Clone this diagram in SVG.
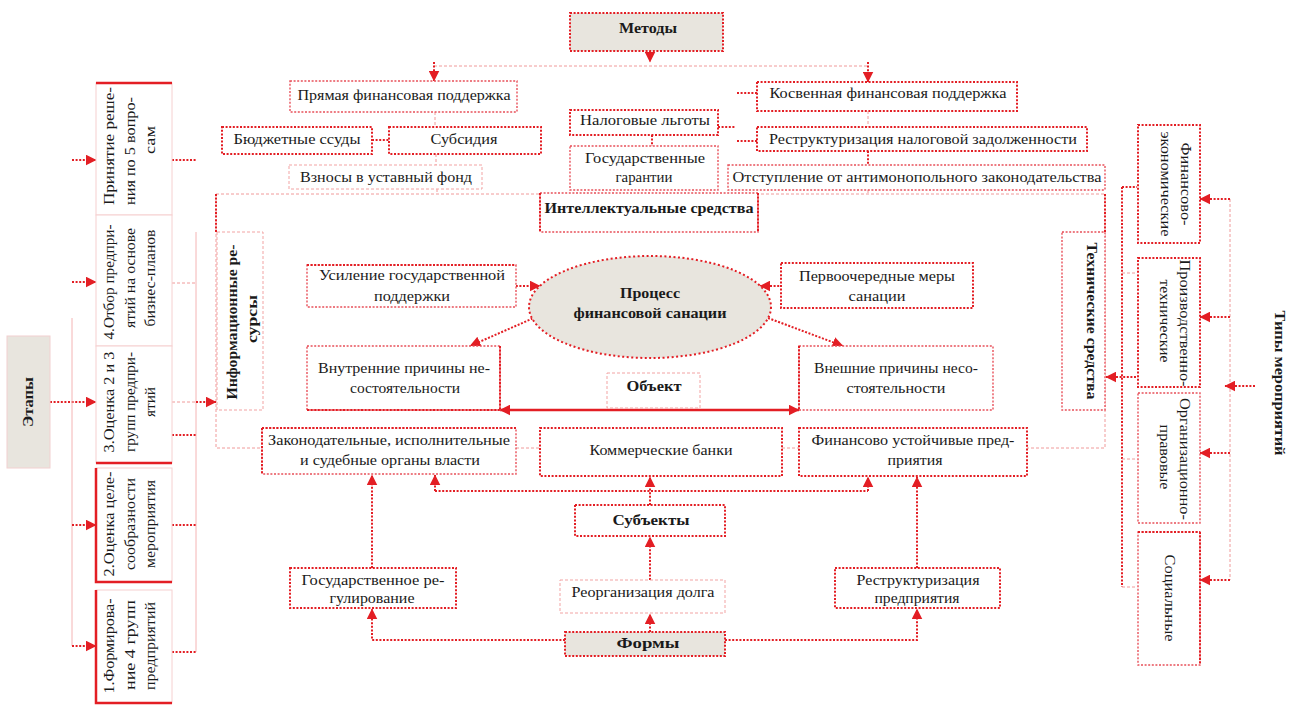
<svg xmlns="http://www.w3.org/2000/svg" width="1312" height="708" viewBox="0 0 1312 708">
<defs>
<marker id="ah" viewBox="0 0 10 10" refX="9.5" refY="5" markerWidth="11" markerHeight="11" markerUnits="userSpaceOnUse" orient="auto-start-reverse"><path d="M0,0 L10,5 L0,10 z" fill="#e31e24"/></marker>
<style>
.b1{fill:#fff;stroke:#e31e24;stroke-width:2;stroke-dasharray:2 1.6}
.b3{fill:#fff;stroke:#e8505a;stroke-width:1.4;stroke-dasharray:2 1.6}
.b2{fill:#fff;stroke:#f2a3a3;stroke-width:1;stroke-dasharray:3 2}
.bg{fill:#e8e5de}
.ps{fill:none;stroke:#f4b4b4;stroke-width:1}
.tl{fill:none;stroke:#e31e24;stroke-width:2.5}
.c1{fill:none;stroke:#e31e24;stroke-width:2;stroke-dasharray:2 1.6}
.c2{fill:none;stroke:#f09a9a;stroke-width:1;stroke-dasharray:3 2}
.cs{fill:none;stroke:#e31e24;stroke-width:2.5}
text{font-family:"Liberation Serif","Times New Roman",serif;font-size:15px;fill:#1a1a1a;text-anchor:middle}
.bd{font-weight:bold}
.v{dominant-baseline:central}
</style>
</defs>
<rect width="1312" height="708" fill="#fff"/>

<g id="connectors">
<!-- top -->
<line class="c1" x1="650" y1="51" x2="650" y2="62" marker-end="url(#ah)"/>
<line class="c2" x1="434" y1="66" x2="868" y2="66"/>
<line class="c1" x1="434" y1="62" x2="434" y2="81" marker-end="url(#ah)"/>
<line class="c1" x1="868" y1="62" x2="868" y2="82" marker-end="url(#ah)"/>
<line class="c2" x1="435" y1="112" x2="435" y2="127"/>
<line class="c1" x1="372" y1="140" x2="389" y2="140"/>
<line class="c2" x1="436" y1="154" x2="436" y2="165"/>
<line class="c2" x1="437" y1="189" x2="437" y2="194"/>
<line class="c1" x1="718" y1="127" x2="735" y2="127"/>
<line class="c1" x1="737" y1="93" x2="757" y2="93"/>
<line class="c1" x1="737" y1="141" x2="757" y2="141"/>
<line class="c2" x1="868" y1="111" x2="868" y2="127"/>
<line class="c1" x1="868" y1="151" x2="868" y2="165"/>
<line class="c2" x1="868" y1="190" x2="868" y2="194"/>
<line class="c1" x1="652" y1="135" x2="652" y2="146"/>
<line class="c2" x1="216" y1="194" x2="1105" y2="194"/>
<polyline class="c2" points="216,194 216,448 262,448"/>
<line class="c1" x1="216" y1="194" x2="216" y2="232"/>
<polyline class="c2" points="1105,194 1105,448 1027,448"/>
<line class="c1" x1="1105" y1="194" x2="1105" y2="232"/>
<line class="c2" x1="516" y1="448" x2="540" y2="448"/>
<line class="c2" x1="782" y1="448" x2="799" y2="448"/>
<!-- center -->
<line class="c1" x1="343" y1="286" x2="540" y2="286" marker-end="url(#ah)"/>
<line class="c1" x1="952" y1="286" x2="760" y2="286" marker-end="url(#ah)"/>
<line class="c1" x1="536" y1="317" x2="470" y2="346" marker-end="url(#ah)"/>
<line class="c1" x1="768" y1="318" x2="843" y2="346" marker-end="url(#ah)"/>
<line class="cs" x1="500" y1="410" x2="799" y2="410" marker-start="url(#ah)" marker-end="url(#ah)"/>
<!-- lower -->
<line class="c1" x1="650" y1="505" x2="650" y2="477" marker-end="url(#ah)"/>
<line class="c1" x1="435" y1="491" x2="868" y2="491"/>
<line class="c1" x1="435" y1="491" x2="435" y2="475" marker-end="url(#ah)"/>
<line class="c1" x1="868" y1="491" x2="868" y2="477" marker-end="url(#ah)"/>
<line class="c1" x1="372" y1="568" x2="372" y2="475" marker-end="url(#ah)"/>
<line class="c1" x1="917" y1="568" x2="917" y2="477" marker-end="url(#ah)"/>
<line class="c1" x1="650" y1="580" x2="650" y2="537" marker-end="url(#ah)"/>
<line class="c1" x1="650" y1="632" x2="650" y2="614" marker-end="url(#ah)"/>
<polyline class="c1" points="565,640 372,640 372,609" marker-end="url(#ah)"/>
<polyline class="c1" points="725,640 917,640 917,609" marker-end="url(#ah)"/>
<!-- left column -->
<line class="c1" x1="50" y1="402" x2="96" y2="402" marker-end="url(#ah)"/>
<line class="ps" x1="72" y1="318" x2="72" y2="646"/>
<line class="c1" x1="72" y1="160" x2="96" y2="160" marker-end="url(#ah)"/>
<line class="c1" x1="72" y1="282" x2="96" y2="282" marker-end="url(#ah)"/>
<line class="c1" x1="72" y1="525" x2="96" y2="525" marker-end="url(#ah)"/>
<line class="c1" x1="72" y1="646" x2="96" y2="646" marker-end="url(#ah)"/>
<line class="ps" x1="196" y1="232" x2="196" y2="652"/>
<line class="c1" x1="172" y1="160" x2="197" y2="160"/>
<line class="c2" x1="172" y1="283" x2="196" y2="283"/>
<line class="c2" x1="172" y1="402" x2="196" y2="402"/>
<line class="c1" x1="172" y1="435" x2="196" y2="435"/>
<line class="c1" x1="172" y1="525" x2="196" y2="525"/>
<line class="c1" x1="172" y1="652" x2="196" y2="652"/>
<line class="c1" x1="196" y1="402" x2="216" y2="402" marker-end="url(#ah)"/>
<!-- right column -->
<line class="c2" x1="1230" y1="199" x2="1230" y2="580"/>
<line class="c1" x1="1230" y1="199" x2="1200" y2="199" marker-end="url(#ah)"/>
<line class="c1" x1="1230" y1="317" x2="1200" y2="317" marker-end="url(#ah)"/>
<line class="c1" x1="1230" y1="453" x2="1200" y2="453" marker-end="url(#ah)"/>
<line class="c1" x1="1230" y1="580" x2="1200" y2="580" marker-end="url(#ah)"/>
<line class="c1" x1="1255" y1="386" x2="1225" y2="386" marker-end="url(#ah)"/>
<line class="c1" x1="1122" y1="187" x2="1122" y2="587"/>
<line class="c1" x1="1122" y1="187" x2="1137" y2="187"/>
<line class="c2" x1="1122" y1="587" x2="1137" y2="587"/>
<line class="c2" x1="1122" y1="273" x2="1137" y2="273"/>
<line class="c2" x1="1122" y1="459" x2="1137" y2="459"/>
<line class="c1" x1="1136" y1="377" x2="1106" y2="377" marker-end="url(#ah)"/>
</g>

<g id="metody"><rect class="b1 bg" x="570" y="13" width="153" height="38" style="fill:#e8e5de"/><text class="bd" x="648" y="33" textLength="58" lengthAdjust="spacingAndGlyphs">Методы</text></g>
<g id="pryam"><rect class="b3" x="290" y="81" width="227" height="31"/><text x="404" y="100" textLength="213" lengthAdjust="spacingAndGlyphs">Прямая финансовая поддержка</text></g>
<g id="kosv"><rect class="b1" x="757" y="82" width="260" height="29"/><text x="888" y="98" textLength="237" lengthAdjust="spacingAndGlyphs">Косвенная финансовая поддержка</text></g>
<g id="budg"><rect class="b1" x="222" y="127" width="150" height="27"/><text x="297" y="144" textLength="127" lengthAdjust="spacingAndGlyphs">Бюджетные ссуды</text></g>
<g id="subs"><rect class="b1" x="389" y="127" width="152" height="27"/><text x="464" y="144" textLength="67" lengthAdjust="spacingAndGlyphs">Субсидия</text></g>
<g id="vznos"><rect class="b2" x="289" y="165" width="193" height="24"/><text x="386" y="182" textLength="172" lengthAdjust="spacingAndGlyphs">Взносы в уставный фонд</text></g>
<g id="nalog"><rect class="b1" x="570" y="110" width="148" height="25"/><text x="645" y="125" textLength="130" lengthAdjust="spacingAndGlyphs">Налоговые льготы</text></g>
<g id="gosgar"><rect class="b3" x="570" y="146" width="148" height="44"/><text x="645" y="163" textLength="120" lengthAdjust="spacingAndGlyphs">Государственные</text><text x="644" y="182" textLength="57" lengthAdjust="spacingAndGlyphs">гарантии</text></g>
<g id="restrnal"><rect class="b1" x="757" y="127" width="330" height="24"/><text x="923" y="144" textLength="308" lengthAdjust="spacingAndGlyphs">Реструктуризация налоговой задолженности</text></g>
<g id="otst"><rect class="b3" x="728" y="165" width="377" height="25"/><text x="917" y="182" textLength="369" lengthAdjust="spacingAndGlyphs">Отступление от антимонопольного законодательства</text></g>
<g id="intel"><rect class="b3" x="540" y="193" width="218" height="39"/><line class="c1" x1="540" y1="193" x2="540" y2="232"/><line class="c1" x1="758" y1="193" x2="758" y2="232"/><text class="bd" x="649" y="213" textLength="209" lengthAdjust="spacingAndGlyphs">Интеллектуальные средства</text></g>
<g id="info"><rect class="b2" x="217" y="232" width="46" height="178"/><text class="bd v" transform="translate(232,322) rotate(-90)" textLength="155" lengthAdjust="spacingAndGlyphs">Информационные ре-</text><text class="bd v" transform="translate(252,319) rotate(-90)" textLength="48" lengthAdjust="spacingAndGlyphs">сурсы</text></g>
<g id="tech"><rect class="b3" x="1062" y="232" width="43" height="178"/><text class="bd v" transform="translate(1092,321) rotate(90)" textLength="157" lengthAdjust="spacingAndGlyphs">Технические средства</text></g>
<g id="usil"><rect class="b3" x="307" y="265" width="209" height="42"/><line class="c1" x1="307" y1="265" x2="516" y2="265"/><text x="412" y="280" textLength="186" lengthAdjust="spacingAndGlyphs">Усиление государственной</text><text x="412" y="301" textLength="76" lengthAdjust="spacingAndGlyphs">поддержки</text></g>
<g id="process"><ellipse cx="650" cy="307" rx="121" ry="51" fill="#e8e5de" stroke="#e31e24" stroke-width="2" stroke-dasharray="2 2.5"/><text class="bd" x="650" y="298" textLength="60" lengthAdjust="spacingAndGlyphs">Процесс</text><text class="bd" x="650" y="318" textLength="153" lengthAdjust="spacingAndGlyphs">финансовой санации</text></g>
<g id="perv"><rect class="b1" x="781" y="263" width="192" height="45"/><text x="877" y="281" textLength="156" lengthAdjust="spacingAndGlyphs">Первоочередные меры</text><text x="877" y="301" textLength="57" lengthAdjust="spacingAndGlyphs">санации</text></g>
<g id="vnutr"><rect class="b3" x="307" y="346" width="193" height="64"/><line class="c1" x1="500" y1="346" x2="500" y2="410"/><line class="c1" x1="307" y1="410" x2="500" y2="410"/><text x="404" y="373" textLength="172" lengthAdjust="spacingAndGlyphs">Внутренние причины не-</text><text x="405" y="393" textLength="110" lengthAdjust="spacingAndGlyphs">состоятельности</text></g>
<g id="vnesh"><rect class="b3" x="799" y="346" width="194" height="64"/><line class="c1" x1="799" y1="346" x2="799" y2="410"/><text x="896" y="373" textLength="164" lengthAdjust="spacingAndGlyphs">Внешние причины несо-</text><text x="896" y="393" textLength="99" lengthAdjust="spacingAndGlyphs">стоятельности</text></g>
<g id="obj"><rect class="b2" x="607" y="373" width="93" height="35"/><text class="bd" x="654" y="391" textLength="55" lengthAdjust="spacingAndGlyphs">Объект</text></g>
<g id="zakon"><rect class="b3" x="262" y="428" width="254" height="46"/><line class="c1" x1="262" y1="428" x2="516" y2="428"/><line class="c1" x1="262" y1="428" x2="262" y2="474"/><text x="389" y="445" textLength="242" lengthAdjust="spacingAndGlyphs">Законодательные, исполнительные</text><text x="390" y="465" textLength="180" lengthAdjust="spacingAndGlyphs">и судебные органы власти</text></g>
<g id="komm"><rect class="b1" x="540" y="428" width="242" height="48"/><text x="661" y="455" textLength="143" lengthAdjust="spacingAndGlyphs">Коммерческие банки</text></g>
<g id="finust"><rect class="b1" x="799" y="428" width="228" height="48"/><text x="913" y="445" textLength="203" lengthAdjust="spacingAndGlyphs">Финансово устойчивые пред-</text><text x="915" y="465" textLength="55" lengthAdjust="spacingAndGlyphs">приятия</text></g>
<g id="subj"><rect class="b1" x="575" y="505" width="150" height="31"/><text class="bd" x="651" y="525" textLength="77" lengthAdjust="spacingAndGlyphs">Субъекты</text></g>
<g id="gosreg"><rect class="b1" x="290" y="568" width="166" height="40"/><text x="373" y="585" textLength="143" lengthAdjust="spacingAndGlyphs">Государственное ре-</text><text x="372" y="603" textLength="85" lengthAdjust="spacingAndGlyphs">гулирование</text></g>
<g id="reorg"><rect class="b2" x="560" y="580" width="165" height="33"/><text x="643" y="597" textLength="143" lengthAdjust="spacingAndGlyphs">Реорганизация долга</text></g>
<g id="restrpr"><rect class="b1" x="835" y="568" width="165" height="40"/><text x="918" y="585" textLength="123" lengthAdjust="spacingAndGlyphs">Реструктуризация</text><text x="917" y="603" textLength="85" lengthAdjust="spacingAndGlyphs">предприятия</text></g>
<g id="formy"><rect class="b1" x="565" y="632" width="160" height="24" style="fill:#e8e5de"/><text class="bd" x="648" y="648" textLength="63" lengthAdjust="spacingAndGlyphs">Формы</text></g>

<g id="etapy"><rect x="7" y="336" width="43" height="132" fill="#e8e5de" stroke="#f2d0d0" stroke-width="1"/><text class="bd v" transform="translate(28,402) rotate(-90)" textLength="50" lengthAdjust="spacingAndGlyphs">Этапы</text></g>
<g id="stage5"><rect class="ps" x="96" y="83" width="76" height="132" style="fill:#fff;stroke:#f6d0d0"/><line class="tl" x1="96" y1="83" x2="172" y2="83"/><text class="v" transform="translate(109,146) rotate(-90)" textLength="118" lengthAdjust="spacingAndGlyphs">Принятие реше-</text><text class="v" transform="translate(130,151) rotate(-90)" textLength="108" lengthAdjust="spacingAndGlyphs">ния по 5 вопро-</text><text class="v" transform="translate(150,140) rotate(-90)" textLength="28" lengthAdjust="spacingAndGlyphs">сам</text></g>
<g id="stage4"><rect class="ps" x="96" y="215" width="76" height="131" style="fill:#fff;stroke:#f6d0d0"/><text class="v" transform="translate(109,282) rotate(-90)" textLength="115" lengthAdjust="spacingAndGlyphs">4.Отбор предпри-</text><text class="v" transform="translate(130,278) rotate(-90)" textLength="100" lengthAdjust="spacingAndGlyphs">ятий на основе</text><text class="v" transform="translate(150,278) rotate(-90)" textLength="97" lengthAdjust="spacingAndGlyphs">бизнес-планов</text></g>
<g id="stage3"><rect class="ps" x="96" y="346" width="76" height="117" style="fill:#fff;stroke:#f6d0d0"/><line class="tl" x1="96" y1="463" x2="172" y2="463"/><text class="v" transform="translate(109,402) rotate(-90)" textLength="101" lengthAdjust="spacingAndGlyphs">3.Оценка 2 и 3</text><text class="v" transform="translate(130,402) rotate(-90)" textLength="100" lengthAdjust="spacingAndGlyphs">групп предпри-</text><text class="v" transform="translate(150,402) rotate(-90)" textLength="30" lengthAdjust="spacingAndGlyphs">ятий</text></g>
<g id="stage2"><rect class="ps" x="96" y="468" width="76" height="114" style="fill:#fff;stroke:#f6d0d0"/><polyline class="tl" points="96,468 96,582 172,582"/><text class="v" transform="translate(109,524) rotate(-90)" textLength="105" lengthAdjust="spacingAndGlyphs">2.Оценка целе-</text><text class="v" transform="translate(130,524) rotate(-90)" textLength="92" lengthAdjust="spacingAndGlyphs">сообразности</text><text class="v" transform="translate(150,524) rotate(-90)" textLength="88" lengthAdjust="spacingAndGlyphs">мероприятия</text></g>
<g id="stage1"><rect class="ps" x="96" y="590" width="76" height="113" style="fill:#fff;stroke:#f6d0d0"/><polyline class="tl" points="96,590 96,703 172,703"/><text class="v" transform="translate(109,646) rotate(-90)" textLength="95" lengthAdjust="spacingAndGlyphs">1.Формирова-</text><text class="v" transform="translate(130,645) rotate(-90)" textLength="90" lengthAdjust="spacingAndGlyphs">ние 4 групп</text><text class="v" transform="translate(150,646) rotate(-90)" textLength="88" lengthAdjust="spacingAndGlyphs">предприятий</text></g>

<g id="tipy"><text class="bd v" transform="translate(1280,383) rotate(90)" textLength="145" lengthAdjust="spacingAndGlyphs">Типы мероприятий</text></g>
<g id="type1"><rect class="b1" x="1138" y="125" width="62" height="118"/><text class="v" transform="translate(1186,184) rotate(90)" textLength="83" lengthAdjust="spacingAndGlyphs">Финансово-</text><text class="v" transform="translate(1166,184) rotate(90)" textLength="105" lengthAdjust="spacingAndGlyphs">экономические</text></g>
<g id="type2"><rect class="b1" x="1138" y="258" width="62" height="129"/><text class="v" transform="translate(1185,323) rotate(90)" textLength="127" lengthAdjust="spacingAndGlyphs">Производственно-</text><text class="v" transform="translate(1165,321) rotate(90)" textLength="83" lengthAdjust="spacingAndGlyphs">технические</text></g>
<g id="type3"><rect class="b3" x="1138" y="393" width="62" height="130"/><text class="v" transform="translate(1185,459) rotate(90)" textLength="122" lengthAdjust="spacingAndGlyphs">Организационно-</text><text class="v" transform="translate(1165,457) rotate(90)" textLength="65" lengthAdjust="spacingAndGlyphs">правовые</text></g>
<g id="type4"><rect class="b3" x="1138" y="532" width="62" height="133"/><line class="c1" x1="1138" y1="532" x2="1200" y2="532"/><line class="c1" x1="1200" y1="532" x2="1200" y2="665"/><text class="v" transform="translate(1170,598) rotate(90)" textLength="87" lengthAdjust="spacingAndGlyphs">Социальные</text></g>
</svg>
